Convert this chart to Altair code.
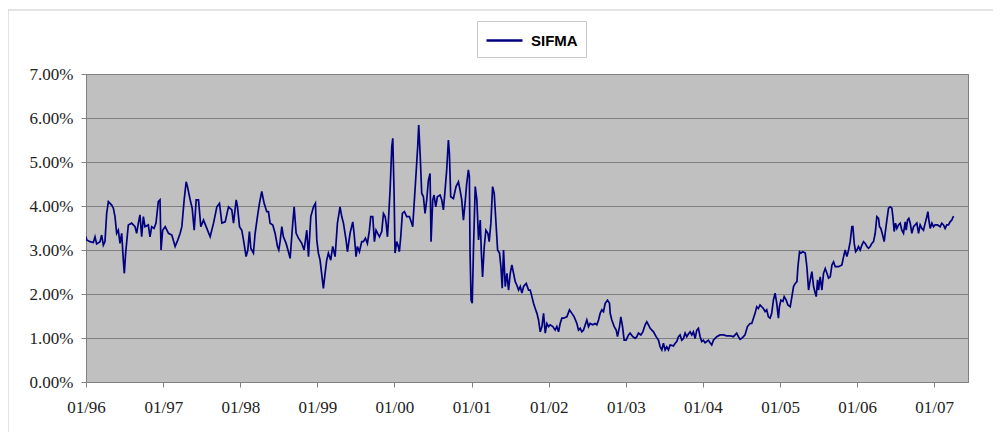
import altair as alt
import pandas as pd
import numpy as np

years = [
    1996.000, 1996.009, 1996.052, 1996.095, 1996.117, 1996.138, 1996.182, 1996.203, 1996.225, 1996.246,
    1996.268, 1996.290, 1996.333, 1996.355, 1996.376, 1996.398, 1996.419, 1996.441, 1996.463, 1996.484,
    1996.497, 1996.514, 1996.549, 1996.592, 1996.636, 1996.657, 1996.679, 1996.700, 1996.722, 1996.744,
    1996.765, 1996.808, 1996.830, 1996.852, 1996.882, 1996.908, 1996.938, 1996.960, 1996.973, 1996.994,
    1997.025, 1997.068, 1997.111, 1997.154, 1997.189, 1997.219, 1997.241, 1997.271, 1997.297, 1997.314,
    1997.349, 1997.375, 1997.401, 1997.427, 1997.457, 1997.487, 1997.522, 1997.556, 1997.608, 1997.652,
    1997.695, 1997.729, 1997.760, 1997.803, 1997.846, 1997.889, 1997.911, 1997.946, 1997.963, 1997.989,
    1998.019, 1998.041, 1998.075, 1998.097, 1998.118, 1998.136, 1998.170, 1998.192, 1998.222, 1998.248,
    1998.278, 1998.309, 1998.343, 1998.365, 1998.386, 1998.421, 1998.451, 1998.482, 1998.499, 1998.516,
    1998.538, 1998.559, 1998.594, 1998.624, 1998.646, 1998.680, 1998.698, 1998.724, 1998.754, 1998.797,
    1998.827, 1998.862, 1998.884, 1998.914, 1998.949, 1998.974, 1998.992, 1999.013, 1999.035, 1999.065,
    1999.078, 1999.100, 1999.121, 1999.143, 1999.173, 1999.199, 1999.230, 1999.260, 1999.294, 1999.316,
    1999.338, 1999.372, 1999.390, 1999.424, 1999.459, 1999.476, 1999.502, 1999.519, 1999.545, 1999.575,
    1999.597, 1999.623, 1999.649, 1999.675, 1999.692, 1999.718, 1999.740, 1999.761,
    1999.805, 1999.835, 1999.857, 1999.879, 1999.892, 1999.909, 1999.922, 1999.943, 1999.965, 1999.978,
    1999.995, 2000.008, 2000.030, 2000.051, 2000.064, 2000.082, 2000.103, 2000.129, 2000.160, 2000.194,
    2000.224, 2000.237, 2000.259, 2000.289, 2000.302, 2000.315, 2000.333, 2000.354, 2000.376, 2000.397,
    2000.419, 2000.441, 2000.462, 2000.475, 2000.497, 2000.514, 2000.536, 2000.557, 2000.592, 2000.614,
    2000.635, 2000.657, 2000.678, 2000.700, 2000.713, 2000.730, 2000.765, 2000.799, 2000.830, 2000.851,
    2000.873, 2000.895, 2000.916, 2000.938, 2000.959, 2000.972, 2000.981, 2000.994, 2001.007, 2001.024,
    2001.046, 2001.067, 2001.089, 2001.111, 2001.124, 2001.141, 2001.163, 2001.184, 2001.210, 2001.227,
    2001.249, 2001.271, 2001.292, 2001.318, 2001.336, 2001.361, 2001.379, 2001.396, 2001.413, 2001.435,
    2001.457, 2001.478, 2001.500, 2001.521, 2001.543, 2001.565, 2001.586, 2001.608, 2001.630, 2001.651,
    2001.673, 2001.707, 2001.738, 2001.759, 2001.781, 2001.802, 2001.824, 2001.846, 2001.867, 2001.889,
    2001.911, 2001.932, 2001.954, 2001.975, 2001.997, 2002.019, 2002.053, 2002.083, 2002.105, 2002.127,
    2002.148, 2002.170, 2002.192, 2002.235, 2002.269, 2002.300, 2002.330, 2002.365, 2002.386, 2002.408,
    2002.429, 2002.451, 2002.494, 2002.516, 2002.537, 2002.572, 2002.602, 2002.624, 2002.646, 2002.667,
    2002.689, 2002.710, 2002.732, 2002.762, 2002.788, 2002.797, 2002.818, 2002.849, 2002.875, 2002.892,
    2002.918, 2002.935, 2002.957, 2002.978, 2003.004, 2003.035, 2003.056, 2003.091, 2003.121, 2003.143,
    2003.164, 2003.195, 2003.221, 2003.251, 2003.272, 2003.294, 2003.316, 2003.359, 2003.393, 2003.424,
    2003.445,
    2003.467, 2003.488, 2003.510, 2003.531, 2003.553, 2003.575, 2003.618, 2003.640, 2003.661, 2003.683,
    2003.704, 2003.726, 2003.748, 2003.769, 2003.791, 2003.812, 2003.834, 2003.856, 2003.877, 2003.899,
    2003.921, 2003.942, 2003.964, 2003.985, 2004.007, 2004.029, 2004.050, 2004.072, 2004.094, 2004.115,
    2004.137, 2004.180, 2004.223, 2004.266, 2004.310, 2004.353, 2004.396, 2004.418, 2004.439, 2004.461,
    2004.483, 2004.504, 2004.526, 2004.547, 2004.578, 2004.612, 2004.634, 2004.656, 2004.677, 2004.699,
    2004.720, 2004.742, 2004.764, 2004.785, 2004.807, 2004.828, 2004.850, 2004.872, 2004.893, 2004.915,
    2004.937, 2004.958, 2004.980, 2004.993, 2005.010, 2005.036, 2005.053, 2005.079, 2005.101, 2005.131,
    2005.153, 2005.174, 2005.196, 2005.218, 2005.231, 2005.252, 2005.269, 2005.295, 2005.326, 2005.347,
    2005.369, 2005.391, 2005.412, 2005.434, 2005.455, 2005.468, 2005.486, 2005.499, 2005.520, 2005.542,
    2005.563, 2005.585, 2005.607, 2005.628, 2005.650, 2005.672, 2005.693, 2005.715, 2005.758, 2005.801,
    2005.823, 2005.844, 2005.866, 2005.888, 2005.909, 2005.931, 2005.944, 2005.961, 2005.979, 2005.996,
    2006.017, 2006.039, 2006.061, 2006.082, 2006.104, 2006.126, 2006.147, 2006.169, 2006.190, 2006.212,
    2006.234, 2006.255, 2006.277, 2006.290, 2006.307, 2006.324, 2006.350, 2006.363, 2006.385, 2006.407,
    2006.428, 2006.450, 2006.463, 2006.480, 2006.497, 2006.515, 2006.536, 2006.558, 2006.579, 2006.601,
    2006.623, 2006.636, 2006.653, 2006.670, 2006.688, 2006.709, 2006.731, 2006.752, 2006.774, 2006.796,
    2006.817, 2006.839, 2006.860, 2006.882, 2006.904, 2006.917, 2006.930, 2006.947, 2006.969, 2006.990,
    2007.012, 2007.042, 2007.077, 2007.098, 2007.120, 2007.141, 2007.163, 2007.185, 2007.206, 2007.228,
    2007.250,
]

# SIFMA rate in percent
rates = [
    3.30, 3.23, 3.19, 3.17, 3.30, 3.14, 3.19, 3.34, 3.11, 3.19,
    3.83, 4.10, 4.02, 3.95, 3.76, 3.38, 3.45, 3.15, 3.38, 2.77,
    2.47, 2.93, 3.57, 3.61, 3.53, 3.38, 3.61, 3.80, 3.30, 3.76,
    3.53, 3.57, 3.30, 3.53, 3.49, 3.61, 4.10, 4.14, 3.00, 3.45,
    3.53, 3.38, 3.34, 3.08, 3.23, 3.38, 3.53, 4.14, 4.55, 4.44,
    4.14, 3.95, 3.45, 4.14, 4.14, 3.53, 3.68, 3.53, 3.30, 3.61,
    3.98, 4.06, 3.61, 3.64, 3.98, 3.91, 3.61, 4.14, 3.98, 3.53,
    3.45, 3.23, 2.85, 3.00, 3.42, 3.04, 2.93, 3.38, 3.76, 4.06,
    4.33, 4.06, 3.87, 3.87, 3.61, 3.57, 3.38, 3.08, 3.00, 3.19,
    3.53, 3.30, 3.15, 2.96, 2.81, 3.61, 3.98, 3.38, 3.27, 3.15,
    3.00, 3.45, 2.85, 3.76, 3.98, 4.06, 3.23, 2.93, 2.77, 2.32,
    2.13, 2.47, 2.77, 2.93, 2.77, 3.08, 2.85, 3.61, 3.98, 3.76,
    3.61, 3.23, 2.96, 3.38, 3.64, 3.38, 2.85, 3.08, 2.96, 3.19,
    3.19, 3.27, 3.15, 3.45, 3.76, 3.76, 3.19, 3.45,
    3.30, 3.42, 3.83, 3.76, 3.61, 3.30, 3.68, 4.36, 5.35, 5.54,
    4.29, 2.93, 3.19, 3.08, 2.96, 3.30, 3.83, 3.87, 3.76, 3.76,
    3.61, 3.53, 4.14, 4.97, 5.35, 5.84, 5.20, 4.29, 4.21, 3.83,
    4.14, 4.59, 4.74, 3.19, 4.14, 4.25, 3.98, 4.21, 4.25, 4.14,
    3.91, 4.36, 4.82, 5.50, 5.20, 4.21, 4.17, 4.44, 4.55, 4.36,
    4.14, 3.68, 4.06, 4.52, 4.82, 4.67, 2.93, 1.86, 1.79, 3.08,
    4.44, 4.14, 3.23, 3.68, 3.00, 2.39, 3.08, 3.45, 3.38, 3.19,
    3.61, 4.44, 4.29, 3.53, 3.00, 2.93, 2.62, 2.13, 3.00, 2.17,
    2.47, 2.09, 2.47, 2.66, 2.47, 2.28, 2.20, 2.09, 2.17, 2.02,
    2.17, 2.24, 2.09, 2.09, 1.94, 1.79, 1.67, 1.56, 1.41, 1.14,
    1.26, 1.56, 1.11, 1.33, 1.26, 1.30, 1.26, 1.18, 1.26, 1.14,
    1.33, 1.45, 1.45, 1.48, 1.64, 1.56, 1.48, 1.33, 1.18, 1.22,
    1.14, 1.18, 1.41, 1.26, 1.33, 1.30, 1.33, 1.30, 1.41, 1.56,
    1.64, 1.60, 1.79, 1.86, 1.79, 1.56, 1.41, 1.26, 1.18, 1.03,
    1.26, 1.48, 1.26, 0.95, 0.95, 1.07, 1.11, 1.03, 0.99, 1.03,
    1.11, 1.07, 1.14, 1.30, 1.37, 1.30, 1.22, 1.14, 1.03, 0.95,
    0.80,
    0.73, 0.88, 0.73, 0.80, 0.73, 0.84, 0.82, 0.88, 0.92, 1.03,
    1.07, 0.95, 0.99, 1.11, 1.03, 1.09, 1.14, 1.07, 1.14, 0.99,
    1.18, 1.22, 1.03, 0.92, 0.95, 0.89, 0.92, 0.95, 0.89, 0.84,
    0.95, 1.03, 1.07, 1.07, 1.05, 1.05, 1.03, 1.07, 1.11, 1.03,
    0.97, 0.99, 1.03, 1.07, 1.26, 1.33, 1.33, 1.45, 1.56, 1.71,
    1.67, 1.75, 1.71, 1.67, 1.60, 1.64, 1.48, 1.45, 1.56, 1.86,
    2.02, 1.79, 1.45, 1.71, 1.86, 1.83, 1.94, 1.86, 1.75, 1.71,
    1.94, 2.17, 2.24, 2.28, 2.62, 2.96, 2.93, 2.96, 2.93, 2.62,
    2.09, 2.32, 2.51, 2.17, 2.02, 1.94, 2.32, 2.09, 2.39, 2.09,
    2.47, 2.58, 2.47, 2.36, 2.39, 2.66, 2.73, 2.62, 2.62, 2.66,
    2.85, 3.00, 2.85, 3.00, 3.19, 3.53, 3.53, 3.15, 2.96, 3.00,
    3.08, 3.00, 3.11, 3.19, 3.15, 3.08, 3.04, 3.08, 3.15, 3.19,
    3.38, 3.76, 3.72, 3.53, 3.49, 3.38, 3.19, 3.38, 3.68, 3.95,
    3.98, 3.95, 3.76, 3.42, 3.61, 3.49, 3.57, 3.61, 3.45, 3.38,
    3.64, 3.45, 3.68, 3.72, 3.61, 3.38, 3.53, 3.57, 3.61, 3.38,
    3.57, 3.49, 3.45, 3.61, 3.76, 3.87, 3.68, 3.49, 3.61, 3.53,
    3.57, 3.57, 3.53, 3.61, 3.57, 3.49, 3.57, 3.57, 3.64, 3.68,
    3.77,
]

series_name = "SIFMA"
y_ticks = [0, 1, 2, 3, 4, 5, 6, 7]
tick_years = list(range(1996, 2008))

yrs = np.array(years)
whole = np.floor(yrs).astype(int)
frac = yrs - whole
dates = pd.to_datetime(whole.astype(str) + "-01-01") + pd.to_timedelta(frac * 365.25, unit="D")
df = pd.DataFrame({"date": dates.strftime("%Y-%m-%dT%H:%M:%S"), "rate": rates, "series": series_name})

label_font = "Liberation Serif, Times New Roman, serif"

line = alt.Chart(df).mark_line(strokeWidth=1.7, clip=True).encode(
    x=alt.X(
        "date:T",
        scale=alt.Scale(domain=[alt.DateTime(year=1996, month=1, date=1),
                                alt.DateTime(year=2007, month=6, date=10)]),
        axis=alt.Axis(
            title=None,
            values=[alt.DateTime(year=y, month=1, date=1) for y in tick_years],
            format="%m/%y",
            grid=False,
            domainColor="#808080",
            tickColor="#808080",
            tickSize=5,
            labelFont=label_font,
            labelFontSize=17,
            labelColor="#222222",
            labelPadding=12,
            labelFlush=False,
        ),
    ),
    y=alt.Y(
        "rate:Q",
        scale=alt.Scale(domain=[0, 7], nice=False),
        axis=alt.Axis(
            title=None,
            values=y_ticks,
            labelExpr="format(datum.value, '.2f') + '%'",
            grid=True,
            gridColor="#808080",
            gridWidth=1,
            domainColor="#808080",
            tickColor="#808080",
            tickSize=5,
            labelFont=label_font,
            labelFontSize=17,
            labelColor="#222222",
            labelPadding=8,
        ),
    ),
    color=alt.Color(
        "series:N",
        scale=alt.Scale(domain=[series_name], range=["#000080"]),
        legend=alt.Legend(
            title=None,
            orient="none",
            legendX=391,
            legendY=-53,
            symbolType="M-1.8,0H1.8",
            symbolSize=400,
            symbolStrokeWidth=2.5,
            symbolOffset=8,
            labelFont="Liberation Sans",
            labelFontSize=15,
            labelFontWeight="bold",
            labelColor="#000000",
            labelOffset=15,
            padding=8,
            strokeColor="#c8c8c8",
            fillColor="#ffffff",
        ),
    ),
)

frame_src = pd.DataFrame({"k": [0]})
frame_top = alt.Chart(frame_src).mark_rule(color="#c8c8c8", strokeWidth=1).encode(
    x=alt.value(-78), x2=alt.value(930), y=alt.value(-64)
)
frame_left = alt.Chart(frame_src).mark_rule(color="#c8c8c8", strokeWidth=1).encode(
    x=alt.value(-78), y=alt.value(-64), y2=alt.value(370)
)

chart = alt.layer(frame_top, frame_left, line).properties(
    width=882,
    height=308,
    autosize=alt.AutoSizeParams(type="none"),
    padding={"left": 78, "top": 66, "right": 25, "bottom": 50},
    background="#ffffff",
).configure_view(
    fill="#c0c0c0",
    stroke="#808080",
    strokeWidth=1,
)

chart.save("out.html", embed_options={"renderer": "svg", "actions": False})
